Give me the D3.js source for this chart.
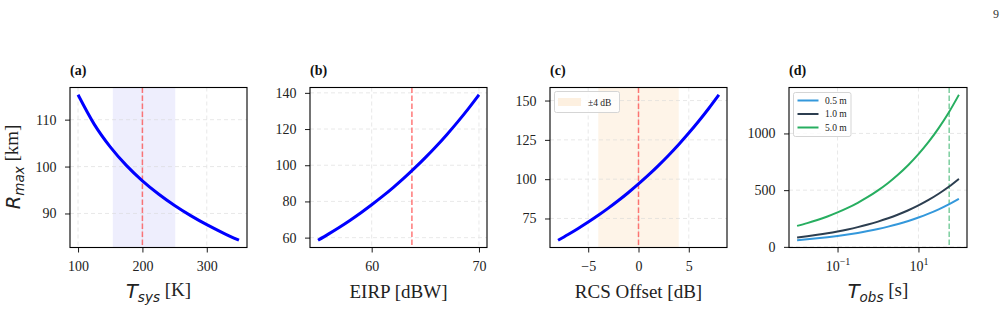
<!DOCTYPE html>
<html><head><meta charset="utf-8">
<script src="https://cdn.jsdelivr.net/npm/d3@7"></script>
<style>body{margin:0;background:#fff}svg{display:block}</style>
</head><body>
<script>
// ---- data ----
const tsysValues = [100,125,150,175,200,225,250,275,300,325,350];
const rmaxTsys   = [115.30,109.05,104.19,100.25,96.96,94.15,91.70,89.54,87.61,85.88,84.30];
const tsysNominal = 200;
const tsysBand = [154,251];

const eirpValues = [55,56,57,58,59,60,61,62,63,64,65,66,67,68,69,70];
const rmaxEirp   = [58.56,62.06,65.74,69.64,73.76,78.13,82.75,87.66,92.86,98.37,104.19,110.37,116.91,123.83,131.17,138.94];
const eirpNominal = 63.75;

const rcsOffsets = [-8,-7,-6,-5,-4,-3,-2,-1,0,1,2,3,4,5,6,7,8];
const rmaxRcs    = [61.18,64.80,68.64,72.71,77.02,81.58,86.42,91.54,96.96,102.70,108.79,115.24,122.07,129.30,136.96,145.08,153.67];
const rcsNominal = 0;
const rcsBand = [-4,4];

const tobsValues = [0.01,0.0178,0.0316,0.0562,0.1,0.178,0.316,0.562,1,1.78,3.16,5.62,10,17.8,31.6,56.2,100];
const rmaxD05 = [58.5,66.2,75.0,84.8,96.0,108.7,123.0,139.2,157.5,178.3,201.8,228.4,258.5,292.6,331.1,374.8,424.1];
const rmaxD10 = [82.7,93.6,106.0,119.9,135.8,153.7,173.9,196.8,222.8,252.1,285.4,323.0,365.6,413.7,468.2,530.0,599.7];
const rmaxD50 = [185,209.4,237.0,268.2,303.6,343.6,388.9,440.1,498.1,563.8,638.1,722.2,817.4,925.1,1047,1185,1341];
const diameterLabels = ["0.5 m","1.0 m","5.0 m"];
const tobsNominal = 57.5;

const ticksA = {x:[100,200,300], y:[90,100,110]};
const ticksB = {x:[60,70], y:[60,80,100,120,140]};
const ticksC = {x:[-5,0,5], y:[75,100,125,150]};
const ticksD = {x:[0.1,10], y:[0,500,1000]};

// ---- drawing ----
const W=1006, H=312;
const svg = d3.select("body").append("svg").attr("width",W).attr("height",H);
const SERIF = "Liberation Serif, Times New Roman, serif";
const MATH = "DejaVu Sans, sans-serif";
const TOP=87.5, BOT=247.5;

svg.append("text").attr("x",999).attr("y",18).attr("text-anchor","end")
  .attr("font-family",SERIF).attr("font-size",12).attr("fill","#333").text("9");

function pad(ext, log){
  if(log){const a=Math.log10(ext[0]),b=Math.log10(ext[1]),p=(b-a)*0.05;return [10**(a-p),10**(b+p)];}
  const p=(ext[1]-ext[0])*0.05; return [ext[0]-p, ext[1]+p];
}

function panel(o){
  const g = svg.append("g");
  const x = (o.log? d3.scaleLog(): d3.scaleLinear()).domain(pad(o.xExt,o.log)).range([o.left,o.right]);
  const y = d3.scaleLinear().domain(pad(o.yExt,false)).range([BOT,TOP]);
  if(o.band){
    g.append("rect").attr("x",x(o.band[0])).attr("y",TOP).attr("width",x(o.band[1])-x(o.band[0]))
     .attr("height",BOT-TOP).attr("fill",o.bandColor);
  }
  const grid = g.append("g").attr("stroke","#d8d8d8").attr("stroke-width",0.8).attr("stroke-dasharray","4,3").attr("opacity",0.7);
  o.ticks.x.forEach(v=>grid.append("line").attr("x1",x(v)).attr("x2",x(v)).attr("y1",TOP).attr("y2",BOT));
  o.ticks.y.forEach(v=>grid.append("line").attr("x1",o.left).attr("x2",o.right).attr("y1",y(v)).attr("y2",y(v)));
  g.append("line").attr("x1",x(o.vline)).attr("x2",x(o.vline)).attr("y1",TOP).attr("y2",BOT)
   .attr("stroke",o.vcolor).attr("stroke-width",1.5).attr("stroke-dasharray","5.5,2.5").attr("opacity",o.vop);
  const line = d3.line().x(d=>x(d[0])).y(d=>y(d[1])).curve(d3.curveMonotoneX);
  o.series.forEach(s=>{
    g.append("path").attr("d",line(o.xs.map((v,i)=>[v,s.ys[i]]))).attr("fill","none")
     .attr("stroke",s.color).attr("stroke-width",s.w).attr("stroke-linecap","butt");
  });
  const ax = g.append("g").attr("transform",`translate(0,${BOT})`)
    .call(d3.axisBottom(x).tickValues(o.ticks.x).tickSize(5).tickPadding(7.5).tickFormat(o.log?()=>"" : d3.format("d")));
  const ay = g.append("g").attr("transform",`translate(${o.left},0)`)
    .call(d3.axisLeft(y).tickValues(o.ticks.y).tickSize(5).tickPadding(8.5).tickFormat(d3.format("d")));
  [ax,ay].forEach(a=>{
    a.attr("font-family",SERIF).attr("font-size",14);
    a.select(".domain").remove();
    a.selectAll("line").attr("stroke","#000").attr("stroke-width",0.9);
    a.selectAll("text").attr("font-family",SERIF).attr("font-size",14).attr("fill","#222");
  });
  ax.selectAll("text").attr("dy","0.75em").text(d=>o.log?"":(d<0?"\u2212"+Math.abs(d):d));
  if(o.log){
    ax.selectAll(".tick text").each(function(d){
      const t=d3.select(this); const e=Math.round(Math.log10(d));
      t.append("tspan").text("10");
      t.append("tspan").attr("font-size",10).attr("dy","-0.55em").text(e<0?"\u2212"+Math.abs(e):e);
    });
  }
  g.append("rect").attr("x",o.left).attr("y",TOP).attr("width",o.right-o.left).attr("height",BOT-TOP)
   .attr("fill","none").attr("stroke","#000").attr("stroke-width",1.1);
  g.append("text").attr("x",o.left).attr("y",75).attr("font-family",SERIF).attr("font-weight","bold")
   .attr("font-size",14).attr("fill","#111").text(o.title);
  const xl = g.append("text").attr("x",(o.left+o.right)/2).attr("y",298).attr("text-anchor","middle")
   .attr("font-family",SERIF).attr("font-size",19).attr("fill","#222");
  o.xlabel(xl);
  return {g,x,y};
}

function mathLabel(t, main, sub, rest){
  t.append("tspan").attr("font-family",MATH).attr("font-style","italic").attr("font-size",19.5).text(main);
  t.append("tspan").attr("font-family",MATH).attr("font-style","italic").attr("font-size",13.5).attr("dy","0.3em").text(sub);
  t.append("tspan").attr("font-family",SERIF).attr("font-size",19).attr("dy","-0.3em").text(rest);
}

panel({title:"(a)", left:70, right:247, xs:tsysValues, xExt:[100,350], yExt:[84.30,115.30],
  ticks:ticksA, band:tsysBand, bandColor:"#eeeefd", vline:tsysNominal, vcolor:"#ff4d4d", vop:0.75,
  series:[{ys:rmaxTsys,color:"#0000ff",w:3}],
  xlabel:t=>mathLabel(t,"T","sys"," [K]")});

const yl = svg.append("text").attr("transform","translate(20,167) rotate(-90)").attr("text-anchor","middle").attr("fill","#222");
mathLabel(yl,"R","max"," [km]");

panel({title:"(b)", left:310, right:487, xs:eirpValues, xExt:[55,70], yExt:[58.56,138.94],
  ticks:ticksB, vline:eirpNominal, vcolor:"#ff4d4d", vop:0.75,
  series:[{ys:rmaxEirp,color:"#0000ff",w:3}],
  xlabel:t=>t.text("EIRP [dBW]")});

const pc = panel({title:"(c)", left:550, right:727, xs:rcsOffsets, xExt:[-8,8], yExt:[61.18,153.67],
  ticks:ticksC, band:rcsBand, bandColor:"#fef4e8", vline:rcsNominal, vcolor:"#ff4d4d", vop:0.75,
  series:[{ys:rmaxRcs,color:"#0000ff",w:3}],
  xlabel:t=>t.text("RCS Offset [dB]")});

const lc = pc.g.append("g");
lc.append("rect").attr("x",554.5).attr("y",91.5).attr("width",65).attr("height",21).attr("rx",2)
  .attr("fill","#fff").attr("fill-opacity",0.8).attr("stroke","#d5d5d5");
lc.append("rect").attr("x",558).attr("y",98).attr("width",23).attr("height",8).attr("fill","#fdf0e0");
lc.append("text").attr("x",588).attr("y",105.5).attr("font-family",SERIF).attr("font-size",9.5).attr("fill","#222").text("\u00b14 dB");

const dColors = ["#3498db","#2c3e50","#27ae60"];
const pd = panel({title:"(d)", left:789, right:967, xs:tobsValues, xExt:[0.01,100], yExt:[58.5,1341], log:true,
  ticks:ticksD, vline:tobsNominal, vcolor:"#27ae60", vop:0.6,
  series:[{ys:rmaxD05,color:dColors[0],w:2},{ys:rmaxD10,color:dColors[1],w:2},{ys:rmaxD50,color:dColors[2],w:2}],
  xlabel:t=>mathLabel(t,"T","obs"," [s]")});

const ld = pd.g.append("g");
ld.append("rect").attr("x",793.5).attr("y",92.5).attr("width",57.5).attr("height",44).attr("rx",2)
  .attr("fill","#fff").attr("fill-opacity",0.8).attr("stroke","#d5d5d5");
diameterLabels.forEach((lab,i)=>{
  const yy = 100.5 + i*13.5;
  ld.append("line").attr("x1",797.5).attr("x2",818.5).attr("y1",yy).attr("y2",yy).attr("stroke",dColors[i]).attr("stroke-width",2);
  ld.append("text").attr("x",825).attr("y",yy+3.3).attr("font-family",SERIF).attr("font-size",9.5).attr("fill","#222").text(lab);
});
</script>
</body></html>
